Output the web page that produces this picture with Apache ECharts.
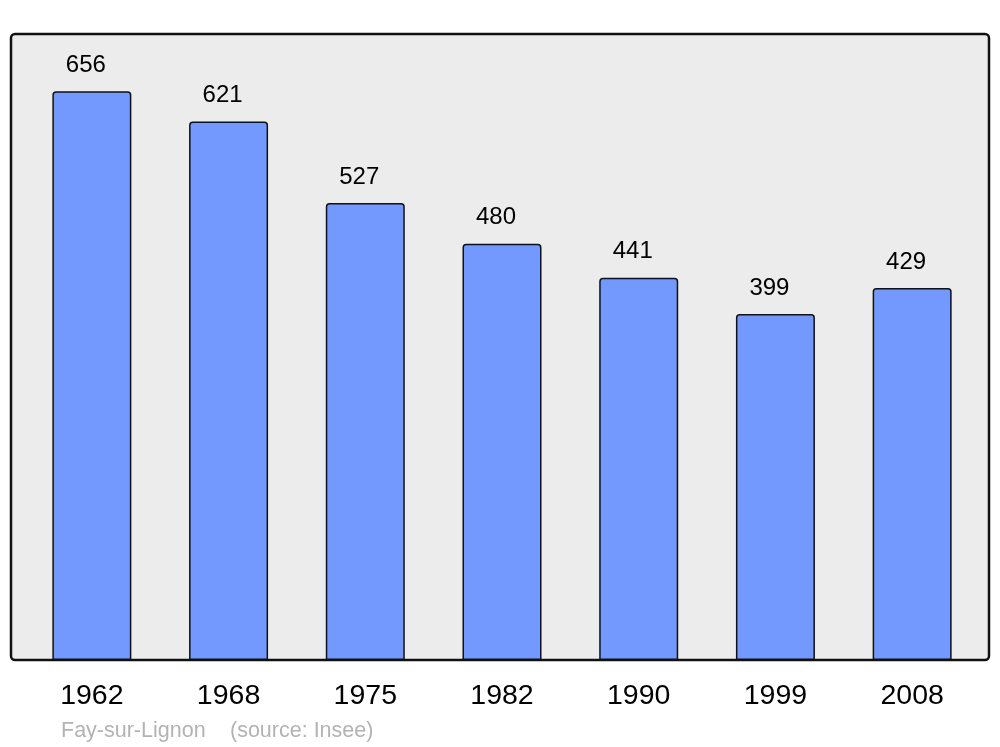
<!DOCTYPE html>
<html>
<head>
<meta charset="utf-8">
<script src="https://cdn.jsdelivr.net/npm/echarts@6/dist/echarts.min.js"></script>
<style>html,body{margin:0;padding:0;background:#fff;}#c{width:1000px;height:747px;}</style>
</head>
<body>
<div id="c"></div>
<script>
var years = ['1962', '1968', '1975', '1982', '1990', '1999', '2008'];
var population = [656, 621, 527, 480, 441, 399, 429];
var footerPlace = 'Fay-sur-Lignon';
var footerSource = '(source: Insee)';

var chart = echarts.init(document.getElementById('c'), null, {renderer: 'canvas'});
chart.setOption({
  animation: false,
  backgroundColor: '#ffffff',
  graphic: [
    {type: 'rect', z: -10, shape: {x: 11, y: 34, width: 978, height: 626, r: 4},
     style: {fill: '#ececec', stroke: '#111111', lineWidth: 2.5}},
    {type: 'text', left: 61, top: 720,
     style: {text: footerPlace, fill: '#b3b3b3', font: '21.5px "Liberation Sans", Arial, sans-serif'}},
    {type: 'text', left: 230, top: 720,
     style: {text: footerSource, fill: '#b3b3b3', font: '21.5px "Liberation Sans", Arial, sans-serif'}}
  ],
  grid: {left: 23.5, right: 19.5, top: 34, bottom: 87},
  xAxis: {
    type: 'category', data: years,
    axisLine: {show: false}, axisTick: {show: false},
    axisLabel: {margin: 22, color: '#000', fontSize: 28.5, fontFamily: 'Liberation Sans'}
  },
  yAxis: {type: 'value', min: 0, max: 722, show: false, splitLine: {show: false}},
  series: [{
    type: 'bar', data: population, barWidth: 79,
    itemStyle: {color: '#7399ff', borderColor: '#111', borderWidth: 1.5, borderRadius: [3, 3, 0, 0]},
    label: {show: true, position: 'top', distance: 14, offset: [-6, 0], color: '#000', fontSize: 24, fontFamily: 'Liberation Sans'}
  }]
});
</script>
</body>
</html>
